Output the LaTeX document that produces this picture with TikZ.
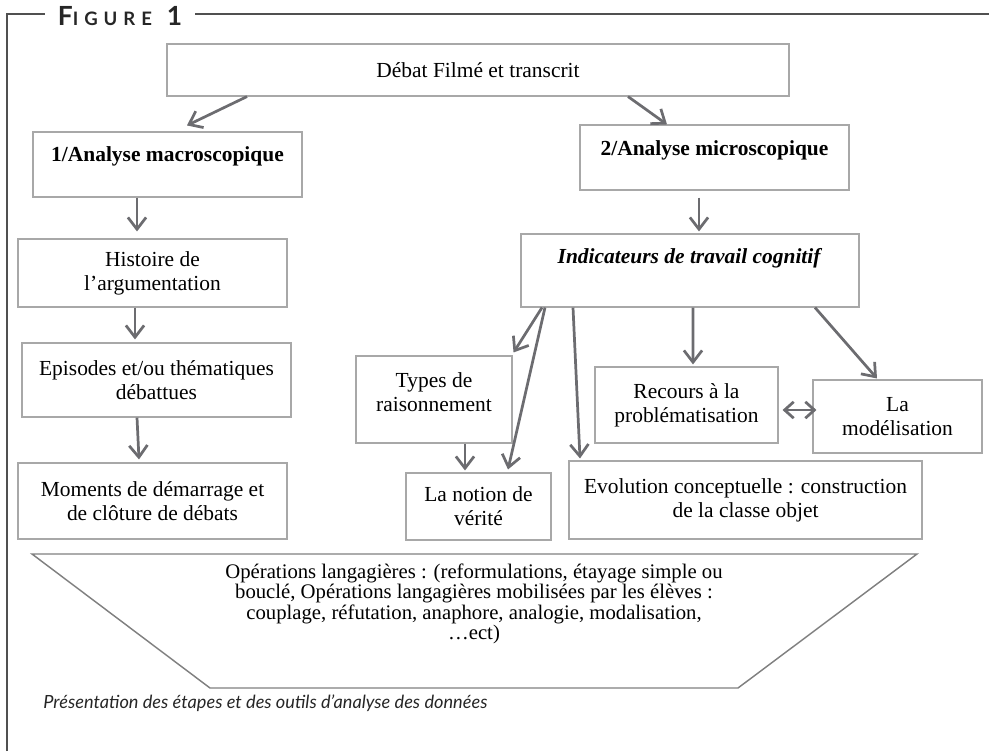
\documentclass[tikz,border=0pt]{standalone}
\usepackage{fontspec}
\setmainfont{Liberation Serif}
\newfontfamily\figfont[LetterSpace=32]{Lato}
\newfontfamily\capfont{Lato}
\usepackage{tikz}
\usetikzlibrary{arrows.meta}
\usetikzlibrary{calc}
\definecolor{arrowgray}{RGB}{108,108,112}
\definecolor{boxgray}{RGB}{168,168,168}
\definecolor{framegray}{RGB}{80,80,80}
\def\pxl{0.55pt}
\tikzstyle{box}=[draw=boxgray,line width=0.6pt,align=center,inner sep=0pt,font=\fontsize{11.8}{13.2}\selectfont]
\tikzstyle{arr}=[draw=arrowgray,line width=1.5pt,-{Straight Barb[length=6.5pt,width=10pt]}]
\tikzstyle{dblarr}=[draw=arrowgray,line width=1.5pt,{Straight Barb[length=5pt,width=9pt]}-{Straight Barb[length=5pt,width=9pt]}]
\tikzstyle{frame}=[draw=framegray,line width=0.85pt]

\begin{document}
\begin{tikzpicture}[x=0.55pt,y=-0.55pt]
    \useasboundingbox (0,0) rectangle (989,751);

    % frame and title
    \node[font=\figfont\bfseries, text=black!85, inner xsep=7pt] (figtitle) at (120,16.5)
        {\fontsize{14.5}{14.5}\selectfont F\fontsize{10.2}{10.2}\selectfont IGURE\fontsize{14.5}{14.5}\selectfont\ 1};
    \coordinate (tl) at (7,14);
    \draw[frame] (7,751) -- (tl) -- (tl -| figtitle.west);
    \draw[frame] (tl -| figtitle.east) -- (989,14);

    % first level
    \node[box, minimum width=622*\pxl, minimum height=52*\pxl] (debat) at (478,70) {Débat Filmé et transcrit};
    \node[box, minimum width=269*\pxl, minimum height=65*\pxl, text height=9pt, text depth=12.4pt] (macro) at (167.5,164.5) {\textbf{1/Analyse macroscopique}};
    \node[box, minimum width=269*\pxl, minimum height=65*\pxl, text height=9pt, text depth=11.2pt] (micro) at (714.5,157.5) {\textbf{2/Analyse microscopique}};

    % left column
    \node[box, minimum width=269*\pxl, minimum height=68*\pxl] (histoire) at (152.5,273) {Histoire de\\l’argumentation};
    \node[box, minimum width=269*\pxl, minimum height=74*\pxl] (episodes) at (156.5,380) {Episodes et/ou thématiques\\débattues};
    \node[box, minimum width=269*\pxl, minimum height=76*\pxl] (moments) at (152.5,501) {Moments de démarrage et\\de clôture de débats};

    % right column
    \node[box, minimum width=338*\pxl, minimum height=73*\pxl, text height=9pt, text depth=16.8pt] (indic) at (690,270.5) {\textbf{\textit{Indicateurs de travail cognitif}}};
    \node[box, minimum width=156*\pxl, minimum height=87*\pxl] (types) at (434,399.5) {Types de\\raisonnement\\[-5pt]\mbox{}};
    \node[box, minimum width=183*\pxl, minimum height=76*\pxl] (recours) at (686.5,405) {Recours à la\\problématisation};
    \node[box, minimum width=169*\pxl, minimum height=73*\pxl] (modelisation) at (897.5,416.5) {La\\modélisation};
    \node[box, minimum width=145*\pxl, minimum height=67*\pxl] (verite) at (478.5,506.5) {La notion de\\vérité};
    \node[box, minimum width=353*\pxl, minimum height=78*\pxl] (evolution) at (745.5,500) {Evolution conceptuelle : construction\\de la classe objet};

    % trapezium at the bottom
    \draw[draw=black!50, line width=0.8pt] (32,554) -- (917,554) -- (738,688) -- (210,688) -- cycle;
    \node[align=center, font=\fontsize{11.4}{11.2}\selectfont] (ops) at (474,604)
        {Opérations langagières : (reformulations, étayage simple ou\\bouclé, Opérations langagières mobilisées par les élèves :\\couplage, réfutation, anaphore, analogie, modalisation,\\…ect)};

    % caption
    \node[anchor=west, inner sep=0pt, text=black!85, font=\capfont\itshape\fontsize{10}{12}\selectfont] (caption) at (43,703)
        {Présentation des étapes et des outils d’analyse des données};

    % connectors
    \draw[arr] ($(debat.south)+(-231,0)$) -- ($(macro.north)+(19.5,-6)$);
    \draw[arr] ($(debat.south)+(150,0)$) -- ($(micro.north)+(-47.5,0)$);
    \draw[arr] ($(macro.south)+(-30.5,0)$) -- ($(histoire.north)+(-15.5,-7)$);
    \draw[arr] ($(histoire.south)+(-17.5,0)$) -- ($(episodes.north)+(-21.5,-3)$);
    \draw[arr] ($(episodes.south)+(-19.5,0)$) -- ($(moments.north)+(-13.5,-3)$);
    \draw[arr] ($(micro.south)+(-15.5,7)$) -- ($(indic.north)+(9,-2)$);
    \draw[arr] ($(indic.south)+(-148,0)$) -- ($(types.north east)+(1,-3)$);
    \draw[arr] ($(indic.south)+(-145,0)$) -- ($(verite.north)+(29.5,-3)$);
    \draw[arr] ($(indic.south)+(-117,0)$) -- ($(evolution.north)+(-165.5,-2)$);
    \draw[arr] ($(indic.south)+(3,0)$) -- ($(recours.north)+(6.5,-2)$);
    \draw[arr] ($(indic.south)+(125,0)$) -- ($(modelisation.north)+(-20.5,-1)$);
    \draw[arr] ($(types.south)+(31,0)$) -- ($(verite.north)+(-13.5,-2)$);
    \draw[dblarr] ($(recours.east)+(4,5)$) -- ($(modelisation.west)+(4,-6.5)$);
\end{tikzpicture}
\end{document}
